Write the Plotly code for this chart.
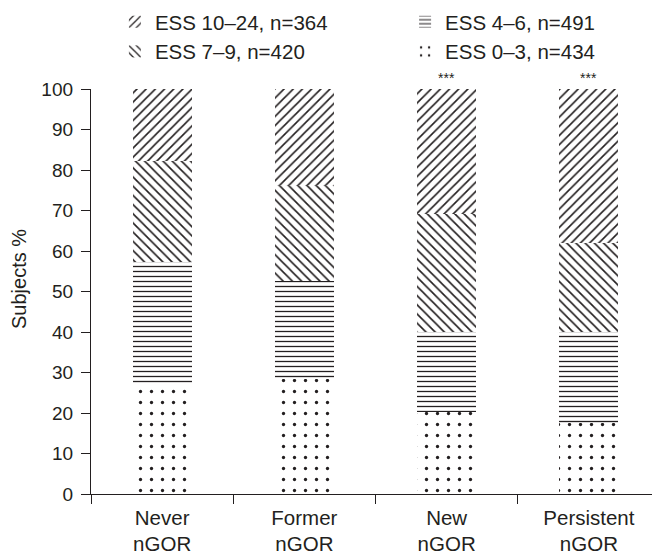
import plotly.graph_objects as go

categories = ["Never<br>nGOR", "Former<br>nGOR", "New<br>nGOR", "Persistent<br>nGOR"]
ess_0_3 = [27.0, 28.5, 20.3, 17.5]
ess_4_6 = [30.3, 24.0, 19.8, 22.5]
ess_7_9 = [24.9, 23.9, 29.1, 22.0]
ess_10_24 = [17.8, 23.6, 30.8, 38.0]
series_names = ["ESS 0–3, n=434", "ESS 4–6, n=491", "ESS 7–9, n=420", "ESS 10–24, n=364"]
significance = ["", "", "***", "***"]
y_ticks = [0, 10, 20, 30, 40, 50, 60, 70, 80, 90, 100]
y_title = "Subjects %"

INK = "#231f20"
FONT = "Liberation Sans, Arial, sans-serif"

series = [ess_0_3, ess_4_6, ess_7_9, ess_10_24]
patterns = [
    dict(shape=".", size=11, solidity=0.07),
    dict(shape="-", size=5, solidity=0.26),
    dict(shape="\\", size=6.5, solidity=0.25),
    dict(shape="/", size=6.5, solidity=0.25),
]
legends = ["legend2", "legend2", "legend", "legend"]

fig = go.Figure()
for name, vals, pat, lg in zip(series_names, series, patterns, legends):
    fig.add_trace(go.Bar(
        x=categories, y=vals, name=name, width=0.415,
        marker=dict(color="white", line=dict(width=0),
                    pattern=dict(fgcolor=INK, bgcolor="white", fillmode="replace", **pat)),
        legend=lg, hoverinfo="skip",
    ))

for cat, sig in zip(categories, significance):
    if sig:
        fig.add_annotation(x=cat, y=100, text=sig, showarrow=False, yanchor="bottom",
                           yshift=1, font=dict(size=14, color=INK, family=FONT))

fig.add_annotation(text=y_title, xref="paper", yref="paper", x=-0.1265, y=0.531,
                   xanchor="center", yanchor="middle", textangle=-90, showarrow=False,
                   font=dict(size=20, color=INK, family=FONT))

legend_common = dict(orientation="v", traceorder="reversed", yanchor="top", xanchor="left",
                     bgcolor="rgba(0,0,0,0)", font=dict(size=20.5, color=INK, family=FONT),
                     itemclick=False, itemdoubleclick=False, tracegroupgap=0)

fig.update_layout(
    width=652, height=547,
    margin=dict(l=83, r=0, t=81, b=61, autoexpand=False),
    paper_bgcolor="white", plot_bgcolor="white",
    barmode="stack",
    font=dict(family=FONT, color=INK, size=19),
    showlegend=True,
    legend=dict(x=0.042, y=1.215, **legend_common),
    legend2=dict(x=0.552, y=1.215, **legend_common),
    xaxis=dict(type="category", range=[-0.5, 3.5], showline=True, linecolor=INK, linewidth=1.3,
               ticks="outside", tickson="boundaries", ticklen=9, tickcolor=INK, tickwidth=1.3,
               showgrid=False, ticklabelstandoff=5, automargin=False,
               tickfont=dict(size=20.5, color=INK, family=FONT)),
    yaxis=dict(range=[0, 100], tickvals=y_ticks, showline=True, linecolor=INK, linewidth=1.3,
               ticks="outside", ticklen=9, tickcolor=INK, tickwidth=1.3, showgrid=False,
               zeroline=False, ticklabelstandoff=4, automargin=False,
               tickfont=dict(size=19, color=INK, family=FONT)),
)

fig.write_html("out.html")
